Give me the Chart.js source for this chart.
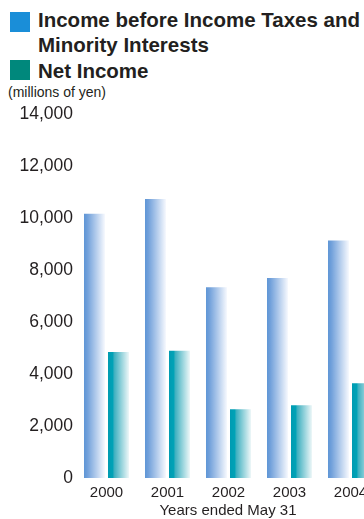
<!doctype html>
<html lang="en">
<head>
  <meta charset="utf-8">
  <title>Income before Income Taxes and Minority Interests / Net Income</title>
  <style>
    * {
      margin: 0;
      padding: 0;
      font-family: "Liberation Sans", Arial, sans-serif;
      color: #231f20;
    }
    body {
      width: 364px;
      height: 519px;
      overflow: hidden;
      position: relative;
      background: white;
    }
    .legend {
      position: absolute;
      left: 10px;
      top: 7px;
      font-weight: bold;
      font-size: 20.5px;
      line-height: 25px;
    }
    .legend div {
      position: relative;
      padding-left: 28px;
    }
    .legend span.box {
      position: absolute;
      left: 0;
      width: 20px;
      height: 20px;
    }
    .unit {
      position: absolute;
      left: 8px;
      top: 84px;
      font-size: 14px;
    }
    .xtitle {
      position: absolute;
      left: 228px;
      top: 501px;
      transform: translateX(-50%);
      font-size: 15px;
      white-space: nowrap;
    }
    .chartBox {
      position: absolute;
      left: 0;
      top: 101px;
      width: 381px;
      height: 407px;
    }
  </style>
</head>
<body>
  <div class="legend">
    <div><span class="box" style="background:#1a8ed8; top:5px"></span>Income before Income Taxes and<br>Minority Interests</div>
    <div style="margin-top:1px"><span class="box" style="background:#00887c; top:2px"></span>Net Income</div>
  </div>
  <div class="unit">(millions of yen)</div>
  <div class="chartBox">
    <canvas id="myChart"></canvas>
  </div>
  <div class="xtitle">Years ended May 31</div>

  <script src="https://cdn.jsdelivr.net/npm/chart.js"></script>
  <script>
    // data (millions of yen)
    const years = ['2000', '2001', '2002', '2003', '2004'];
    const incomeBeforeTaxes = [10180, 10750, 7350, 7700, 9150];
    const netIncome = [4850, 4900, 2650, 2800, 3650];
    const yTicks = [0, 2000, 4000, 6000, 8000, 10000, 12000, 14000];

    const catPct = 0.787;
    const barPct = 0.875;

    // fade stops for each series, left edge -> right edge of a bar
    const fades = [
      [[0, '#5f96d6'], [0.15, '#6f9fda'], [1, '#f7f9fe']],
      [[0, '#009bb2'], [0.22, '#00a2b6'], [0.3, '#3fb0c0'], [1, '#eef7f8']]
    ];

    // build a horizontal gradient for the bar from the x scale
    function fade(context) {
      const chart = context.chart;
      const x = chart.scales.x;
      const i = context.datasetIndex;
      if (!x || !chart.chartArea || context.dataIndex === undefined) return fades[i][0][1];
      const catW = x.width / years.length;
      const slot = catW * catPct / 2;
      const barW = slot * barPct;
      const center = x.getPixelForValue(context.dataIndex);
      const left = center - catW * catPct / 2 + i * slot + (slot - barW) / 2;
      const g = chart.ctx.createLinearGradient(left, 0, left + barW, 0);
      fades[i].forEach(s => g.addColorStop(s[0], s[1]));
      return g;
    }

    const data = {
      labels: years,
      datasets: [
        {
          label: 'Income before Income Taxes and Minority Interests',
          data: incomeBeforeTaxes,
          backgroundColor: fade,
          categoryPercentage: catPct,
          barPercentage: barPct
        },
        {
          label: 'Net Income',
          data: netIncome,
          backgroundColor: fade,
          categoryPercentage: catPct,
          barPercentage: barPct
        }
      ]
    };

    const config = {
      type: 'bar',
      data,
      options: {
        responsive: true,
        maintainAspectRatio: false,
        animation: false,
        layout: { padding: 0 },
        scales: {
          x: {
            grid: { display: false, drawTicks: false },
            border: { display: false },
            ticks: {
              color: '#231f20',
              font: { size: 15, family: '"Liberation Sans", Arial, sans-serif' },
              padding: 6
            },
            afterFit(scale) { scale.height = 30; }
          },
          y: {
            min: 0,
            max: 14000,
            afterBuildTicks(scale) {
              scale.ticks = yTicks.map(v => ({ value: v }));
            },
            grid: { display: false, drawTicks: false },
            border: { display: false },
            ticks: {
              color: '#231f20',
              font: { size: 17.5, family: '"Liberation Sans", Arial, sans-serif' },
              padding: 3,
              callback: v => v.toLocaleString('en-US')
            },
            afterFit(scale) { scale.width = 76; }
          }
        },
        plugins: {
          legend: { display: false },
          tooltip: { enabled: false }
        }
      }
    };

    new Chart(document.getElementById('myChart'), config);
  </script>
</body>
</html>
